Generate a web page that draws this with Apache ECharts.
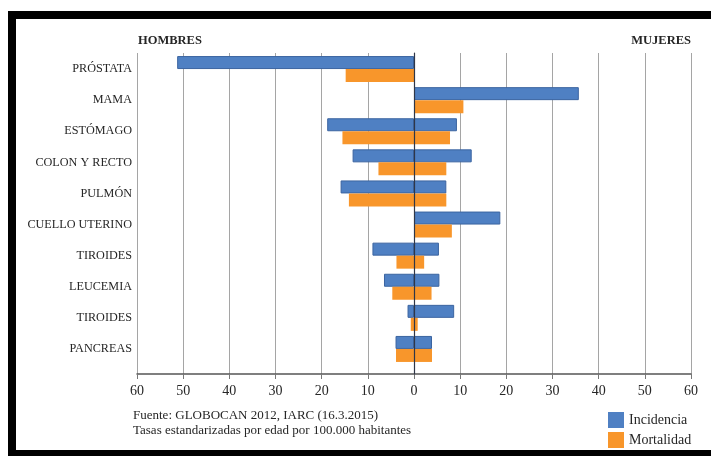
<!DOCTYPE html>
<html>
<head>
<meta charset="utf-8">
<script src="https://cdn.jsdelivr.net/npm/echarts@6/dist/echarts.min.js"></script>
<style>html,body{margin:0;padding:0;background:#fff}#c{width:711px;height:456px}</style>
</head>
<body>
<div id="c"></div>
<script>
const categories = ['PRÓSTATA','MAMA','ESTÓMAGO','COLON Y RECTO','PULMÓN','CUELLO UTERINO','TIROIDES','LEUCEMIA','TIROIDES','PANCREAS'];
// Hombres (drawn to the left), Mujeres (drawn to the right)
const incidenciaHombres = [51.3, null, 18.8, 13.3, 15.9, null, 9.0, 6.5, 1.4, 4.0];
const incidenciaMujeres = [null, 35.7, 9.3, 12.5, 7.0, 18.7, 5.4, 5.5, 8.7, 3.9];
const mortalidadHombres = [14.8, null, 15.5, 7.7, 14.1, null, 3.8, 4.7, 0.7, 3.9];
const mortalidadMujeres = [null, 10.7, 7.8, 7.0, 7.0, 8.2, 2.2, 3.8, 0.8, 3.9];
const xTicks = [-60,-50,-40,-30,-20,-10,0,10,20,30,40,50,60];

const neg = a => a.map(v => v == null ? null : -v);
const FONT = 'Liberation Serif';
const TXT = '#262626';
const BLUE = '#4f80c3', ORANGE = '#f8962b';

const chart = echarts.init(document.getElementById('c'), null, {renderer:'canvas'});
chart.setOption({
  animation:false,
  backgroundColor:'#fff',
  grid:[
    {left:137, right:20, top:53.5, height:311},
    {left:137, right:20, top:53, bottom:82}
  ],
  xAxis:[
    {gridIndex:0, type:'value', min:xTicks[0], max:xTicks[xTicks.length-1], show:false},
    {gridIndex:1, type:'value', min:xTicks[0], max:xTicks[xTicks.length-1], interval:10,
     axisLine:{show:true, onZero:false, lineStyle:{color:'#555', width:1.5}},
     axisTick:{show:true, length:5, lineStyle:{color:'#777'}},
     axisLabel:{margin:10, fontFamily:FONT, fontSize:14, color:TXT, formatter:v=>String(Math.abs(v))},
     splitLine:{show:true, lineStyle:{color:'#a5a5a5', width:1}}}
  ],
  yAxis:[
    {gridIndex:0, type:'category', data:categories, inverse:true,
     axisLine:{show:false}, axisTick:{show:false},
     axisLabel:{margin:5, fontFamily:FONT, fontSize:12.2, color:TXT}},
    {gridIndex:1, type:'value', min:0, max:1, z:5,
     axisLine:{show:true, onZero:true, lineStyle:{color:'#2f3647', width:1.2}},
     axisTick:{show:false}, axisLabel:{show:false}, splitLine:{show:false}}
  ],
  legend:{
    orient:'vertical', left:603, top:407, itemWidth:16, itemHeight:16, itemGap:4, icon:'rect',
    data:['Incidencia','Mortalidad'],
    textStyle:{fontFamily:FONT, fontSize:14, color:TXT},
    itemStyle:{borderWidth:0}
  },
  series:[
    {name:'Incidencia', type:'bar', xAxisIndex:0, yAxisIndex:0, stack:'inc', barWidth:13, barGap:'0%',
     data:neg(incidenciaHombres), itemStyle:{color:BLUE, borderColor:'#3b64a0', borderWidth:1}},
    {name:'Incidencia', type:'bar', xAxisIndex:0, yAxisIndex:0, stack:'inc', barWidth:13, barGap:'0%',
     data:incidenciaMujeres, itemStyle:{color:BLUE, borderColor:'#3b64a0', borderWidth:1}},
    {name:'Mortalidad', type:'bar', xAxisIndex:0, yAxisIndex:0, stack:'mort', barWidth:13, barGap:'0%',
     data:neg(mortalidadHombres), itemStyle:{color:ORANGE}},
    {name:'Mortalidad', type:'bar', xAxisIndex:0, yAxisIndex:0, stack:'mort', barWidth:13, barGap:'0%',
     data:mortalidadMujeres, itemStyle:{color:ORANGE}}
  ],
  graphic:[
    {type:'rect', left:8, top:11, shape:{width:703, height:8}, style:{fill:'#000'}},
    {type:'rect', left:8, top:11, shape:{width:8, height:445}, style:{fill:'#000'}},
    {type:'rect', left:8, top:450, shape:{width:703, height:6}, style:{fill:'#000'}},
    {type:'text', left:138, top:34, style:{text:'HOMBRES', fontFamily:FONT, fontSize:12.5, fontWeight:'bold', fill:TXT}},
    {type:'text', right:20, top:34, style:{text:'MUJERES', fontFamily:FONT, fontSize:12.5, fontWeight:'bold', fill:TXT}},
    {type:'text', left:133, top:409, style:{text:'Fuente: GLOBOCAN 2012, IARC (16.3.2015)', fontFamily:FONT, fontSize:13, fill:TXT}},
    {type:'text', left:133, top:424, style:{text:'Tasas estandarizadas por edad por 100.000 habitantes', fontFamily:FONT, fontSize:13, fill:TXT}}
  ]
});
</script>
</body>
</html>
